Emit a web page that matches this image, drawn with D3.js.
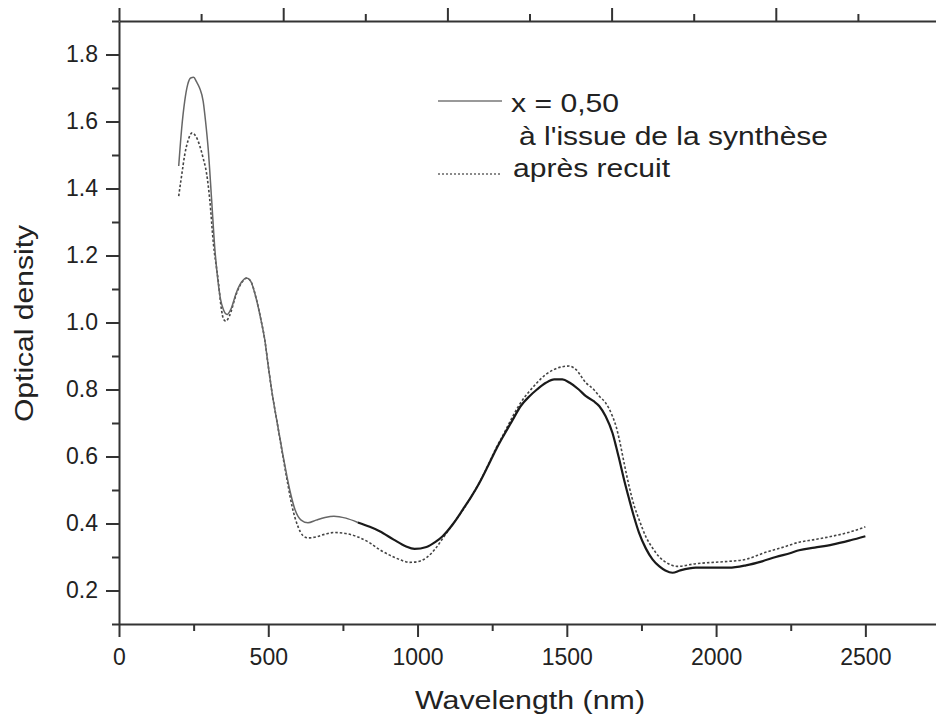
<!DOCTYPE html>
<html>
<head>
<meta charset="utf-8">
<script src="https://cdn.jsdelivr.net/npm/d3@7"></script>
<style>
  body { margin: 0; background: #fff; }
  svg { display: block; font-family: "Liberation Sans", Arial, sans-serif; }
  .axis path, .axis line { stroke: #333; stroke-width: 2; }
  .axis text { font-size: 23px; fill: #222; font-family: "Liberation Sans", Arial, sans-serif; }
</style>
</head>
<body>
<svg width="936" height="723"></svg>
<script>
// as-synthesised sample (solid)
var waveSolid = [200, 210, 220, 230, 240, 250, 260, 270, 282, 290, 299, 310, 321, 332, 340, 349, 362, 375, 393, 410, 427, 440, 460, 475, 488, 500, 511, 530, 550, 572, 590, 610, 633, 660, 690, 720, 760, 800, 840, 873, 920, 960, 990, 1030, 1060, 1084, 1120, 1152, 1180, 1207, 1235, 1263, 1290, 1319, 1345, 1375, 1400, 1430, 1458, 1485, 1510, 1540, 1564, 1590, 1609, 1630, 1653, 1665, 1676, 1692, 1709, 1725, 1742, 1765, 1787, 1810, 1830, 1854, 1880, 1932, 1990, 2043, 2100, 2154, 2200, 2250, 2278, 2330, 2389, 2450, 2500];
var odSolid = [1.467, 1.58, 1.66, 1.71, 1.73, 1.732, 1.718, 1.70, 1.66, 1.60, 1.516, 1.37, 1.22, 1.12, 1.07, 1.04, 1.024, 1.04, 1.089, 1.12, 1.133, 1.125, 1.07, 1.01, 0.95, 0.87, 0.80, 0.70, 0.60, 0.50, 0.44, 0.41, 0.402, 0.41, 0.418, 0.422, 0.416, 0.403, 0.39, 0.377, 0.352, 0.332, 0.324, 0.33, 0.345, 0.362, 0.40, 0.442, 0.48, 0.521, 0.57, 0.621, 0.665, 0.71, 0.75, 0.78, 0.80, 0.82, 0.83, 0.83, 0.82, 0.80, 0.78, 0.765, 0.75, 0.72, 0.67, 0.63, 0.59, 0.53, 0.472, 0.42, 0.372, 0.325, 0.293, 0.272, 0.26, 0.253, 0.26, 0.268, 0.268, 0.268, 0.275, 0.287, 0.30, 0.312, 0.32, 0.328, 0.337, 0.35, 0.362];

// after annealing (dotted)
var waveDotted = [200, 210, 220, 232, 245, 258, 271, 282, 293, 304, 316, 332, 343, 350, 358, 370, 393, 410, 427, 440, 460, 475, 488, 500, 511, 530, 550, 565, 580, 600, 615, 633, 660, 690, 720, 760, 800, 840, 873, 920, 950, 973, 1000, 1030, 1060, 1084, 1120, 1152, 1180, 1207, 1235, 1263, 1290, 1319, 1345, 1375, 1400, 1430, 1458, 1485, 1508, 1530, 1564, 1590, 1609, 1630, 1653, 1665, 1676, 1692, 1709, 1725, 1742, 1765, 1787, 1810, 1840, 1870, 1932, 1990, 2043, 2100, 2166, 2220, 2278, 2330, 2389, 2450, 2500];
var odDotted = [1.377, 1.44, 1.50, 1.545, 1.566, 1.555, 1.526, 1.49, 1.447, 1.367, 1.238, 1.128, 1.04, 1.01, 1.004, 1.02, 1.085, 1.118, 1.132, 1.125, 1.07, 1.01, 0.95, 0.87, 0.80, 0.70, 0.595, 0.52, 0.45, 0.39, 0.365, 0.357, 0.36, 0.368, 0.373, 0.37, 0.36, 0.342, 0.322, 0.30, 0.289, 0.284, 0.286, 0.298, 0.325, 0.355, 0.40, 0.44, 0.48, 0.522, 0.572, 0.625, 0.67, 0.72, 0.76, 0.795, 0.82, 0.845, 0.86, 0.868, 0.87, 0.86, 0.82, 0.80, 0.78, 0.76, 0.72, 0.69, 0.65, 0.58, 0.51, 0.455, 0.412, 0.36, 0.327, 0.30, 0.28, 0.272, 0.28, 0.284, 0.287, 0.293, 0.314, 0.328, 0.344, 0.352, 0.362, 0.375, 0.39];

var yTicks = [0.2, 0.4, 0.6, 0.8, 1.0, 1.2, 1.4, 1.6, 1.8];
var xTicks = [0, 500, 1000, 1500, 2000, 2500];
var legendLabels = ["x = 0,50", "à l'issue de la synthèse", "après recuit"];
var noisyFrom = 800; // solid trace gets noisy (darker) beyond this

var svg = d3.select("svg");
var pLeft = 119, pRight = 940, pTop = 21, pBottom = 624;

var x = d3.scaleLinear().domain([0, 2750]).range([pLeft, pRight]);
var xTop = d3.scaleLinear().domain([0, 2500]).range([pLeft, pRight]);
var y = d3.scaleLinear().domain([0.1, 1.9]).range([pBottom, pTop]);

function minors(lo, hi, step) {
  return d3.range(lo, hi + step / 2, step);
}

// minor ticks
svg.append("g").attr("class", "axis")
  .attr("transform", "translate(0," + pBottom + ")")
  .call(d3.axisBottom(x).tickValues(minors(250, 2750, 500)).tickSize(7).tickFormat(""))
  .select(".domain").remove();
svg.append("g").attr("class", "axis")
  .attr("transform", "translate(0," + pTop + ")")
  .call(d3.axisTop(xTop).tickValues(minors(250, 2250, 500)).tickSize(7).tickFormat(""))
  .select(".domain").remove();
svg.append("g").attr("class", "axis")
  .attr("transform", "translate(" + pLeft + ",0)")
  .call(d3.axisLeft(y).tickValues(minors(0.1, 1.9, 0.2)).tickSize(7).tickFormat(""))
  .select(".domain").remove();

// major ticks + domain lines
svg.append("g").attr("class", "axis")
  .attr("transform", "translate(0," + pBottom + ")")
  .call(d3.axisBottom(x).tickValues(xTicks).tickSize(13).tickSizeOuter(0).tickPadding(12).tickFormat(d3.format("d")));
svg.append("g").attr("class", "axis")
  .attr("transform", "translate(0," + pTop + ")")
  .call(d3.axisTop(xTop).tickValues(xTicks).tickSize(13).tickSizeOuter(0).tickFormat(""));
svg.append("g").attr("class", "axis")
  .attr("transform", "translate(" + pLeft + ",0)")
  .call(d3.axisLeft(y).tickValues(yTicks).tickSize(13).tickSizeOuter(0).tickPadding(8).tickFormat(d3.format(".1f")));

// curves
var line = d3.line()
  .x(function(d) { return x(d[0]); })
  .y(function(d) { return y(d[1]); })
  .curve(d3.curveMonotoneX);

var solid = d3.zip(waveSolid, odSolid);
var dotted = d3.zip(waveDotted, odDotted);

svg.append("path")
  .attr("d", line(dotted))
  .attr("fill", "none")
  .attr("stroke", "#444")
  .attr("stroke-width", 1.6)
  .attr("stroke-dasharray", "2.5,2");

svg.append("path")
  .attr("d", line(solid.filter(function(d) { return d[0] <= noisyFrom; })))
  .attr("fill", "none")
  .attr("stroke", "#666")
  .attr("stroke-width", 1.5);

svg.append("path")
  .attr("d", line(solid.filter(function(d) { return d[0] >= noisyFrom; })))
  .attr("fill", "none")
  .attr("stroke", "#1a1a1a")
  .attr("stroke-width", 2.2);

// axis titles
svg.append("text")
  .attr("x", 415).attr("y", 709)
  .attr("textLength", 230).attr("lengthAdjust", "spacingAndGlyphs")
  .attr("font-size", 26).attr("fill", "#222")
  .text("Wavelength (nm)");

svg.append("text")
  .attr("transform", "translate(33,422) rotate(-90)")
  .attr("textLength", 197).attr("lengthAdjust", "spacingAndGlyphs")
  .attr("font-size", 26).attr("fill", "#222")
  .text("Optical density");

// legend
var lg = svg.append("g");
lg.append("line").attr("x1", 438).attr("x2", 502).attr("y1", 101).attr("y2", 101)
  .attr("stroke", "#777").attr("stroke-width", 1.6);
lg.append("line").attr("x1", 438).attr("x2", 502).attr("y1", 174).attr("y2", 174)
  .attr("stroke", "#666").attr("stroke-width", 1.4).attr("stroke-dasharray", "2,2");

var legendPos = [[511, 112, 108], [519, 145, 309], [513, 177, 157]];
lg.selectAll("text.leg").data(legendLabels).enter().append("text")
  .attr("class", "leg")
  .attr("x", function(d, i) { return legendPos[i][0]; })
  .attr("y", function(d, i) { return legendPos[i][1]; })
  .attr("textLength", function(d, i) { return legendPos[i][2]; })
  .attr("lengthAdjust", "spacingAndGlyphs")
  .attr("font-size", 25).attr("fill", "#222")
  .text(function(d) { return d; });
</script>
</body>
</html>
